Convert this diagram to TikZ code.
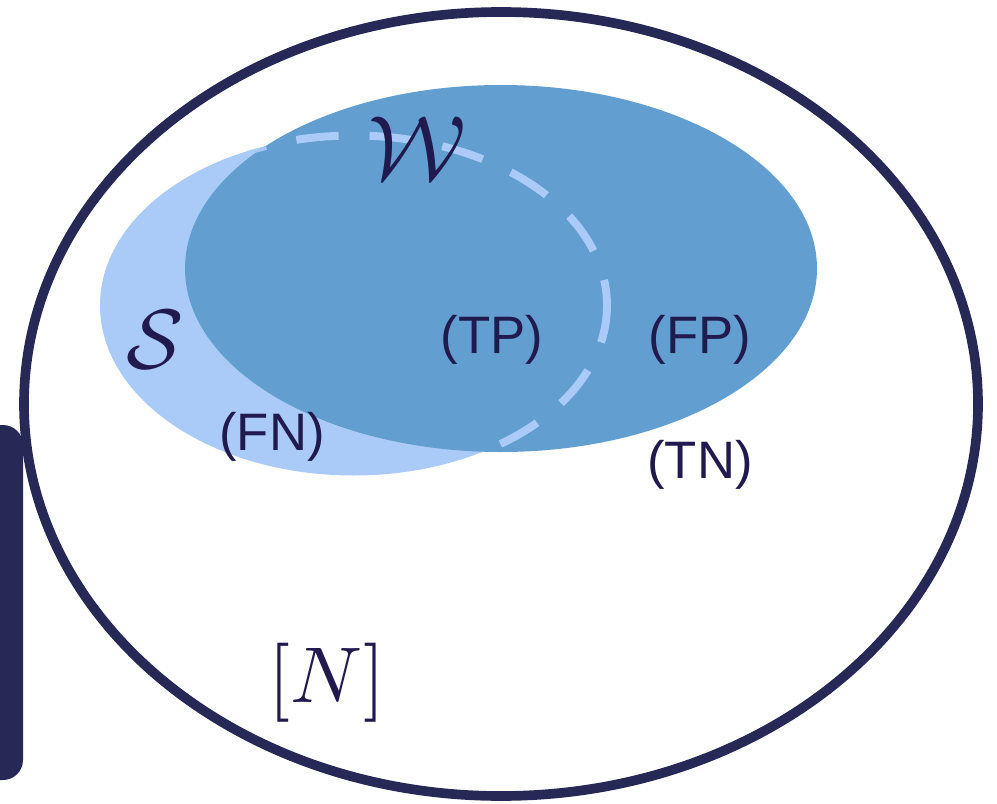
\documentclass[tikz,border=0pt]{standalone}
\usepackage{fontspec}
\setsansfont{Liberation Sans}
\definecolor{navy}{HTML}{262855}
\definecolor{txt}{HTML}{201A4E}
\definecolor{lightb}{HTML}{AACBF7}
\definecolor{midb}{HTML}{629ECF}
\begin{document}
\begin{tikzpicture}[x=0.02cm,y=-0.02cm,
  lab/.style={text=txt,font=\sffamily\fontsize{30}{36}\selectfont,inner sep=0pt},
  mlab/.style={text=txt,inner sep=0pt}]
\useasboundingbox (0,0) rectangle (997,804);
\begin{scope}
\clip (0,0) rectangle (997,804);
\fill[navy,rounded corners=0.4cm] (-40,425) rectangle (23,780);
\end{scope}
\draw[navy,line width=5.5pt] (501,404) ellipse [x radius=477, y radius=392];
\fill[lightb] (353.5,305.5) ellipse [x radius=253.5, y radius=170];
\fill[midb] (501,268.5) ellipse [x radius=316, y radius=183.5];
\begin{scope}
\clip (501,268.5) ellipse [x radius=316, y radius=183.5];
\draw[lightb,line width=4.5pt,dash pattern=on 0.85cm off 0.62cm,dash phase=0.1cm] (353.5,305.5) ellipse [x radius=253.5, y radius=170];
\end{scope}
\node[mlab] (w) at (417,148) {\scalebox{5.2}{$\mathcal{W}$}};
\node[mlab] (s) at (155,340) {\scalebox{4.8}{$\mathcal{S}$}};
\node[lab] (tp) at (492,340) {(TP)};
\node[lab] (fp) at (700,340) {(FP)};
\node[lab] (fn) at (272,437) {(FN)};
\node[lab] (tn) at (700,465) {(TN)};
\node[mlab] (n) at (327,683) {\scalebox{4.5}{$[N]$}};
\end{tikzpicture}
\end{document}
